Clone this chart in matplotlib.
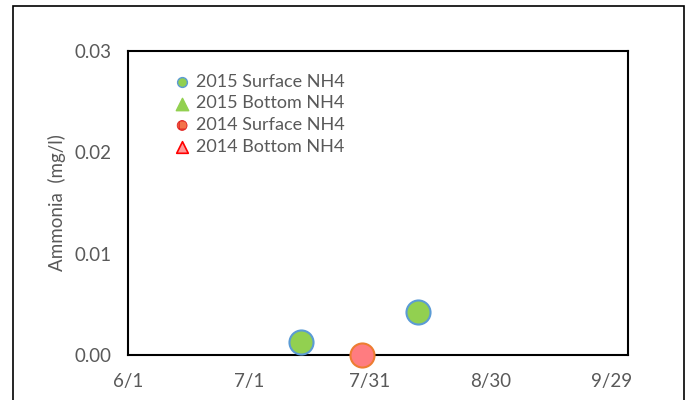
import datetime as dt
import matplotlib
matplotlib.use("Agg")
import matplotlib.pyplot as plt
import matplotlib.dates as mdates
from matplotlib.patches import Rectangle

plt.rcParams['font.family'] = ['Lato', 'DejaVu Sans']
plt.rcParams['hatch.linewidth'] = 0.8

# datos (mismo año para comparar temporadas)
fechas_2015_sup = ["2015-07-14", "2015-08-12"]
nh4_2015_sup = [0.0013, 0.0042]
fechas_2015_fondo = []
nh4_2015_fondo = []
fechas_2014_sup = ["2015-07-29"]
nh4_2014_sup = [0.0]
fechas_2014_fondo = []
nh4_2014_fondo = []

ticks_x = ["2015-06-01", "2015-07-01", "2015-07-31", "2015-08-30", "2015-09-29"]
ticks_y = [0.00, 0.01, 0.02, 0.03]

def a_fecha(lista):
    return [dt.datetime.strptime(f, "%Y-%m-%d") for f in lista]

gris = '#595959'

fig = plt.figure(figsize=(6.91, 4.0), dpi=100)
# marco exterior del grafico
fig.patches.append(Rectangle((0.019, -0.02), 0.971, 1.005, transform=fig.transFigure,
                             fill=False, edgecolor='black', linewidth=1.2))
ax = fig.add_axes([0.185, 0.1125, 0.724, 0.76])

ax.scatter(a_fecha(fechas_2015_sup), nh4_2015_sup, s=300, color='#92D050',
           edgecolor='#5B9BD5', linewidth=1.5, zorder=3, clip_on=False)
ax.scatter(a_fecha(fechas_2014_sup), nh4_2014_sup, s=300, color='#FF7C80',
           edgecolor='#ED7D31', linewidth=1.5, zorder=3, clip_on=False)

# entradas de leyenda
h1 = ax.scatter([], [], s=50, marker='o', color='#92D050', edgecolor='#5B9BD5', linewidth=1)
h2 = ax.scatter(a_fecha(fechas_2015_fondo), nh4_2015_fondo, s=80, marker='^', color='#92D050')
h3 = ax.scatter([], [], s=50, marker='o', facecolor='#F4734A', edgecolor='#E02020',
                linewidth=0.6, hatch='++')
h4 = ax.scatter(a_fecha(fechas_2014_fondo), nh4_2014_fondo, s=70, marker='^',
                color='#FF9999', edgecolor='red', linewidth=1.2)
leg = ax.legend([h1, h2, h3, h4],
                ['2015 Surface NH4', '2015 Bottom NH4', '2014 Surface NH4', '2014 Bottom NH4'],
                loc='upper left', bbox_to_anchor=(0.058, 0.967), frameon=False,
                fontsize=13, handletextpad=0.05, labelspacing=0.32, borderpad=0.2,
                handlelength=1.4)
for t in leg.get_texts():
    t.set_color(gris)

ax.set_xlim(dt.datetime(2015, 6, 1), dt.datetime(2015, 10, 3))
ax.set_ylim(0, 0.03)
ax.set_xticks(a_fecha(ticks_x))
ax.xaxis.set_major_formatter(mdates.DateFormatter('%-m/%-d'))
ax.set_yticks(ticks_y)
ax.set_yticklabels([f"{v:.2f}" for v in ticks_y])
ax.tick_params(length=0, labelsize=13.5, colors=gris, pad=13)
ax.tick_params(axis='y', pad=12)
ax.set_ylabel('Ammonia  (mg/l)', fontsize=13.5, color=gris, labelpad=6)

for s in ax.spines.values():
    s.set_color('black')
    s.set_linewidth(1.5)

plt.savefig('out.png', dpi=100)
